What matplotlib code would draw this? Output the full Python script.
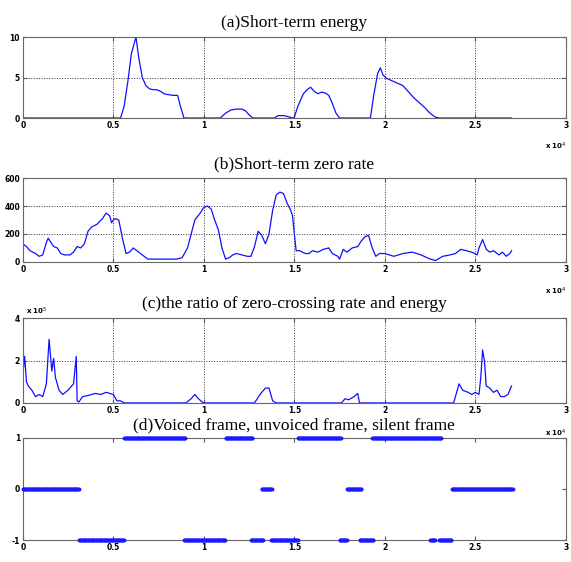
import numpy as np
import matplotlib.pyplot as plt

plt.rcParams['axes.unicode_minus'] = False

# x positions are in units of 10^4 samples
energy_x = [0, 0.54, 0.56, 0.58, 0.60, 0.625, 0.64, 0.66, 0.68, 0.70, 0.72, 0.74, 0.76, 0.78,
            0.80, 0.83, 0.855, 0.87, 0.89, 1.09, 1.12, 1.15, 1.18, 1.21, 1.23, 1.25, 1.27,
            1.39, 1.41, 1.44, 1.46, 1.49, 1.50, 1.52, 1.55, 1.57, 1.59, 1.61, 1.63, 1.65,
            1.67, 1.69, 1.71, 1.73, 1.75, 1.92, 1.94, 1.96, 1.975, 1.99, 2.01, 2.04, 2.07,
            2.10, 2.12, 2.14, 2.16, 2.18, 2.20, 2.22, 2.24, 2.26, 2.28, 2.30, 2.70]
energy_y = [0, 0, 1.5, 4.5, 8.0, 10.0, 7.5, 5.0, 4.0, 3.6, 3.5, 3.5, 3.3, 3.0,
            2.9, 2.8, 2.8, 1.5, 0, 0, 0.6, 1.0, 1.1, 1.1, 0.9, 0.4, 0,
            0, 0.3, 0.3, 0.2, 0, 0.1, 1.5, 3.0, 3.5, 3.8, 3.3, 3.0, 3.2,
            3.1, 2.8, 1.8, 0.6, 0, 0, 3.0, 5.5, 6.2, 5.3, 4.9, 4.6, 4.3,
            4.0, 3.5, 3.0, 2.5, 2.1, 1.7, 1.3, 0.8, 0.4, 0.1, 0, 0]

zcr_x = [0, 0.02, 0.04, 0.07, 0.09, 0.11, 0.13, 0.14, 0.15, 0.17, 0.19, 0.21, 0.23, 0.26,
         0.28, 0.30, 0.32, 0.34, 0.36, 0.38, 0.41, 0.44, 0.46, 0.48, 0.49, 0.50, 0.51, 0.53,
         0.55, 0.57, 0.59, 0.61, 0.63, 0.66, 0.69, 0.75, 0.85, 0.88, 0.91, 0.93, 0.95, 0.98,
         1.00, 1.02, 1.04, 1.06, 1.08, 1.10, 1.12, 1.14, 1.16, 1.18, 1.21, 1.24, 1.26, 1.28,
         1.30, 1.32, 1.34, 1.36, 1.38, 1.40, 1.42, 1.44, 1.46, 1.48, 1.49, 1.50, 1.51, 1.53,
         1.56, 1.58, 1.60, 1.63, 1.66, 1.69, 1.71, 1.74, 1.75, 1.77, 1.79, 1.82, 1.85, 1.87,
         1.89, 1.91, 1.93, 1.95, 1.97, 2.00, 2.05, 2.10, 2.15, 2.20, 2.25, 2.28, 2.32, 2.36,
         2.39, 2.42, 2.45, 2.48, 2.51, 2.52, 2.54, 2.56, 2.58, 2.60, 2.63, 2.65, 2.67, 2.69,
         2.70]
zcr_y = [130, 110, 80, 60, 40, 50, 140, 170, 150, 110, 100, 60, 50, 50,
         70, 110, 100, 130, 220, 250, 270, 310, 350, 330, 280, 300, 310, 300,
         170, 60, 70, 100, 80, 50, 20, 20, 20, 30, 100, 200, 300, 350,
         390, 400, 380, 300, 230, 100, 20, 30, 50, 60, 50, 40, 40, 110,
         220, 190, 130, 200, 370, 480, 500, 490, 420, 370, 330, 200, 80, 80,
         60, 60, 80, 70, 90, 100, 60, 40, 20, 90, 70, 100, 110, 150,
         180, 190, 100, 40, 60, 60, 40, 60, 70, 50, 20, 10, 40, 50,
         60, 90, 80, 70, 50, 100, 160, 90, 70, 80, 50, 70, 40, 60,
         80]

ratio_x = [0, 0.01, 0.02, 0.03, 0.05, 0.07, 0.09, 0.11, 0.13, 0.145, 0.155, 0.16, 0.17, 0.18,
           0.20, 0.22, 0.25, 0.28, 0.295, 0.30, 0.31, 0.33, 0.36, 0.40, 0.43, 0.46, 0.50, 0.52,
           0.54, 0.56, 0.90, 0.93, 0.95, 0.97, 0.99, 1.00, 1.28, 1.31, 1.34, 1.36, 1.38, 1.40,
           1.76, 1.78, 1.80, 1.83, 1.85, 1.86, 2.38, 2.41, 2.43, 2.46, 2.48, 2.50, 2.52, 2.53,
           2.54, 2.55, 2.56, 2.58, 2.60, 2.62, 2.64, 2.66, 2.68, 2.70]
ratio_y = [1.3, 2.2, 1.0, 0.8, 0.6, 0.3, 0.4, 0.3, 0.9, 3.0, 2.0, 1.5, 2.1, 1.2,
           0.6, 0.4, 0.6, 0.9, 2.2, 0.1, 0.05, 0.3, 0.35, 0.45, 0.4, 0.5, 0.4, 0.1,
           0.1, 0, 0, 0.2, 0.4, 0.2, 0.05, 0, 0, 0.4, 0.7, 0.7, 0.1, 0,
           0, 0.2, 0.15, 0.3, 0.45, 0, 0, 0.9, 0.6, 0.5, 0.4, 0.5, 0.4, 1.2,
           2.5, 2.0, 0.8, 0.7, 0.5, 0.6, 0.3, 0.3, 0.4, 0.8]

# frame class segments: start, end, class (1 voiced, -1 unvoiced, 0 silent)
seg_start = [0.0, 0.31, 0.56, 0.89, 1.12, 1.26, 1.32, 1.37, 1.52, 1.75, 1.79, 1.86,
             1.93, 2.25, 2.30, 2.37]
seg_end = [0.31, 0.56, 0.90, 1.12, 1.27, 1.33, 1.38, 1.52, 1.76, 1.79, 1.87, 1.94,
           2.31, 2.28, 2.37, 2.71]
seg_class = [0, -1, 1, -1, 1, -1, 0, -1, 1, -1, 0, -1, 1, -1, -1, 0]

titles = ['(a)Short-term energy', '(b)Short-term zero rate',
          '(c)the ratio of zero-crossing rate and energy',
          '(d)Voiced frame, unvoiced frame, silent frame']

fig = plt.figure(figsize=(5.71, 5.62), dpi=100)
boxes = [(0.040, 0.790, 0.951, 0.144), (0.040, 0.534, 0.951, 0.149),
         (0.040, 0.283, 0.951, 0.151), (0.040, 0.039, 0.951, 0.182)]
axes = [fig.add_axes(b) for b in boxes]
blue = '#1010ff'

axes[0].plot(energy_x, energy_y, color=blue, lw=0.9)
axes[0].set_ylim(0, 10)
axes[0].set_yticks([0, 5, 10])

axes[1].plot(zcr_x, zcr_y, color=blue, lw=0.9)
axes[1].set_ylim(0, 600)
axes[1].set_yticks([0, 200, 400, 600])

axes[2].plot(ratio_x, ratio_y, color=blue, lw=0.9)
axes[2].set_ylim(0, 4)
axes[2].set_yticks([0, 2, 4])

fx, fy = [], []
for s, e, c in zip(seg_start, seg_end, seg_class):
    pts = np.arange(s, e, 0.004)
    fx.extend(pts)
    fy.extend([c] * len(pts))
axes[3].plot(fx, fy, 'o', color='#1a1aff', ms=2.8, mec='none', clip_on=False, zorder=3)
axes[3].set_ylim(-1, 1)
axes[3].set_yticks([-1, 0, 1])

for i, ax in enumerate(axes):
    ax.set_xlim(0, 3)
    ax.set_xticks([0, 0.5, 1, 1.5, 2, 2.5, 3])
    ax.set_xticklabels(['0', '0.5', '1', '1.5', '2', '2.5', '3'])
    ax.tick_params(direction='in', top=True, right=True, length=3, width=0.8,
                   labelsize=5.5, pad=2, color='#555555')
    for lab in ax.get_xticklabels() + ax.get_yticklabels():
        lab.set_fontweight('bold')
    for sp in ax.spines.values():
        sp.set_color('#666666')
        sp.set_linewidth(0.8)
    if i < 3:
        ax.grid(True, color='#333333', linestyle=':', linewidth=0.7)
    ax.set_title(titles[i], family='Liberation Serif', fontsize=12.5,
                 pad=7 if i < 3 else 6)

for y in [0.734, 0.476, 0.224]:
    fig.text(0.955, y, 'x 10$^4$', fontsize=5, fontweight='bold', ha='left')
fig.text(0.045, 0.440, 'x 10$^5$', fontsize=5, fontweight='bold', ha='left')

fig.savefig('out.png', dpi=100)
